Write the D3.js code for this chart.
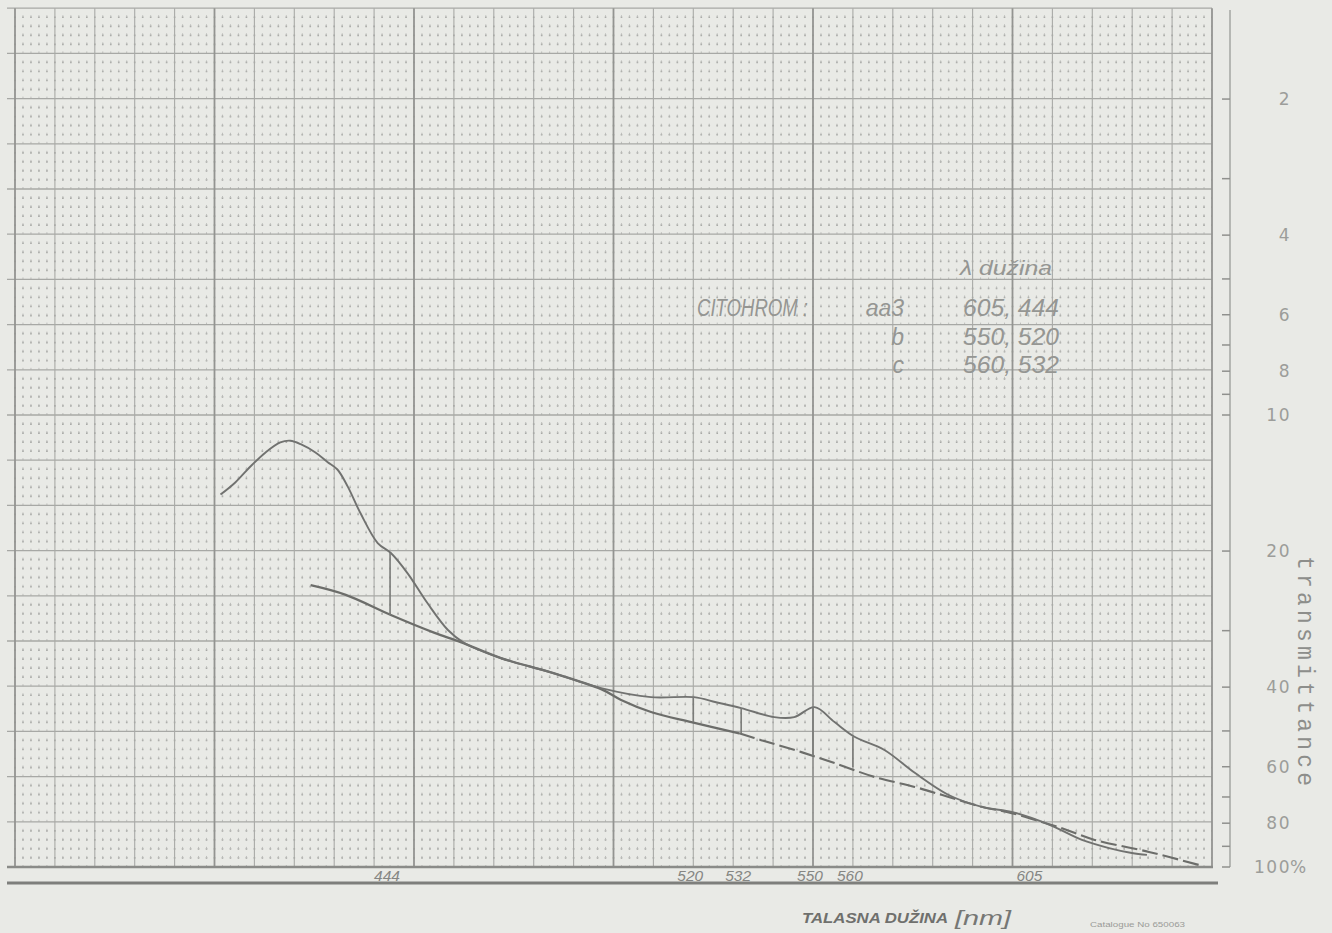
<!DOCTYPE html>
<html><head><meta charset="utf-8">
<script src="https://cdn.jsdelivr.net/npm/d3@7"></script>
<style>html,body{margin:0;padding:0;background:#e9eae6;} svg{display:block}</style>
</head><body>
<svg id="c" width="1332" height="933"></svg>
<script>
// ---- data (wavelength in nm, transmittance in %) ----
const sampleWavelength = [401.5,405.2,409.0,412.8,416.5,419.0,421.6,425.3,428.3,430.8,433.4,436.6,440.9,444.2,448.4,453.4,458.5,462.5,471.8,484.3,496.9,509.4,520.2,525.7,532.0,540.3,545.3,550.4,555.4,560.4,567.9,575.5,584.0,592.3,599.8,604.8,610.6,617.4,624.2,629.9,633.7];
const sampleTransmittance = [15.0,14.1,13.0,12.1,11.5,11.4,11.6,12.1,12.7,13.2,14.4,16.5,19.2,20.2,22.4,26.1,29.9,31.9,34.5,37.1,40.2,42.1,42.1,43.2,44.5,46.6,46.6,44.3,47.8,51.5,55.1,61.9,69.3,73.6,75.5,77.9,81.6,87.1,90.8,93.1,94.0];
const baselineWavelength = [424.1,432.9,444.2,455.0,461.7,471.8,484.3,496.9,501.9,509.4,519.5,531.5,537.0,547.1,555.4,565.4,575.5,584.0,592.3,599.8,607.3,613.6,620.6,634.2,646.8];
const baselineTransmittance = [23.8,25.0,27.7,30.3,31.8,34.5,37.1,40.4,42.7,45.4,47.8,50.6,52.4,55.7,58.9,63.2,66.5,70.0,73.6,76.0,79.5,82.8,87.1,92.6,99.0];
const markerWavelength = [444,520,532,550,560];
const markerTop = [20.2,42.1,44.5,44.3,51.5];
const markerBottom = [27.7,47.8,50.6,56.8,60.1];
const axisLabelWavelength = [444,520,532,550,560,605];
const transTickLabels = [2,4,6,8,10,20,40,60,80,100];
const transTicks = [2,3,4,5,6,7,8,9,10,20,30,40,50,60,70,80,90,100];
const legendCompounds = ["aa3","b","c"];
const legendPeaks = ["605, 444","550, 520","560, 532"];

// ---- scales ----
const x = d3.scaleLinear().domain([350,650]).range([15,1212]);
const y = d3.scaleLog().domain([100, Math.pow(10,0.1)]).range([867, 8.2]);
const T = a => Math.pow(10, 2 - a); // absorbance -> transmittance for the paper grid

const svg = d3.select("#c");
svg.append("rect").attr("width",1332).attr("height",933).attr("fill","#e9eae6");

const grid = svg.append("g");
const rows = d3.range(1,96).filter(k => k % 5 !== 0);
grid.selectAll("line.dr").data(rows).join("line")
  .attr("x1", x(350)-0.8).attr("x2", x(650))
  .attr("y1", k => y(T(k*0.02))).attr("y2", k => y(T(k*0.02)))
  .attr("stroke","#a6a7a4").attr("stroke-width",1.7)
  .attr("stroke-dasharray", () => { const p = x(352)-x(350); return `1.6 ${p-1.6}`; });
const cols = d3.range(350,651,2).filter(l => l % 10 !== 0);
grid.selectAll("line.dc").data(cols).join("line")
  .attr("x1", l => x(l)).attr("x2", l => x(l))
  .attr("y1", y(100)).attr("y2", y(Math.pow(10,0.1)))
  .attr("stroke","#bdbebb").attr("stroke-width",1)
  .attr("stroke-dasharray", () => { const p = y(T(0))-y(T(0.02)); return `2 ${p-2}`; });
grid.selectAll("line.h").data(d3.range(1,20)).join("line")
  .attr("x1", 7).attr("x2", x(650))
  .attr("y1", k => y(T(k*0.1))).attr("y2", k => y(T(k*0.1)))
  .attr("stroke","#a7a8a5").attr("stroke-width",1.3);
grid.selectAll("line.v").data(d3.range(350,651,10)).join("line")
  .attr("x1", l => x(l)).attr("x2", l => x(l))
  .attr("y1", y(100)).attr("y2", y(Math.pow(10,0.1)))
  .attr("stroke", l => l % 50 === 0 ? "#939491" : "#a9aaa7")
  .attr("stroke-width", l => l % 50 === 0 ? 1.8 : 1.1);

svg.append("line").attr("x1",7).attr("x2",x(650)+1).attr("y1",y(100)).attr("y2",y(100))
  .attr("stroke","#8a8b88").attr("stroke-width",2.4);
svg.append("line").attr("x1",7).attr("x2",1218).attr("y1",883).attr("y2",883)
  .attr("stroke","#7e7f7c").attr("stroke-width",3);

// right transmittance axis
const axisX = 1230;
svg.append("line").attr("x1",axisX).attr("x2",axisX).attr("y1",10).attr("y2",y(100))
  .attr("stroke","#9a9b98").attr("stroke-width",1.3);
svg.selectAll("line.tk").data(transTicks).join("line")
  .attr("x1",axisX-8).attr("x2",axisX).attr("y1",d=>y(d)).attr("y2",d=>y(d))
  .attr("stroke","#8f908d").attr("stroke-width",1.5);
svg.selectAll("text.tl").data(transTickLabels).join("text")
  .attr("x",1291).attr("y",d=>y(d)).attr("dy","0.36em")
  .attr("text-anchor","end")
  .attr("font-family","DejaVu Sans").attr("font-size",17).attr("letter-spacing",1.5)
  .attr("fill","#9c9d9a").text(d=>d);
svg.append("text").attr("x",1290).attr("y",y(100)).attr("dy","0.36em")
  .attr("font-family","DejaVu Sans").attr("font-size",17).attr("fill","#9c9d9a").text("%");
svg.append("text").attr("transform","translate(1298,556) rotate(90)")
  .attr("font-family","Liberation Mono").attr("font-size",23)
  .attr("textLength",230).attr("lengthAdjust","spacing")
  .attr("fill","#8d8e8b").text("transmittance");

// curves
const line = d3.line().x(d=>x(d[0])).y(d=>y(d[1])).curve(d3.curveCatmullRom.alpha(0.5));
const sample = sampleWavelength.map((w,i)=>[w,sampleTransmittance[i]]);
const base = baselineWavelength.map((w,i)=>[w,baselineTransmittance[i]]);
const split = baselineWavelength.indexOf(531.5);
svg.append("path").attr("d",line(base.slice(0,split+1))).attr("fill","none")
  .attr("stroke","#6c6d6a").attr("stroke-width",2.3);
svg.append("path").attr("d",line(base.slice(split))).attr("fill","none")
  .attr("stroke","#6c6d6a").attr("stroke-width",2.1).attr("stroke-dasharray","16 5");
svg.append("path").attr("d",line(sample)).attr("fill","none")
  .attr("stroke","#717270").attr("stroke-width",1.9);
svg.selectAll("line.mk").data(markerWavelength).join("line")
  .attr("x1",d=>x(d)).attr("x2",d=>x(d))
  .attr("y1",(d,i)=>y(markerTop[i])).attr("y2",(d,i)=>y(markerBottom[i]))
  .attr("stroke","#7a7b78").attr("stroke-width",1.6);

// wavelength labels
svg.selectAll("text.wl").data(axisLabelWavelength).join("text")
  .attr("x",d=>x(d)-3).attr("y",881).attr("text-anchor","middle")
  .attr("font-family","Liberation Sans").attr("font-style","italic").attr("font-size",15.5)
  .attr("fill","#858683").text(d=>d);

// legend
const lg = svg.append("g").attr("font-family","Liberation Sans").attr("font-style","italic")
  .attr("font-size",23).attr("fill","#959693");
lg.append("text").attr("x",960).attr("y",275).attr("font-size",21)
  .attr("textLength",92).attr("lengthAdjust","spacingAndGlyphs").text("λ dužina");
lg.append("text").attr("x",697).attr("y",316)
  .attr("textLength",111).attr("lengthAdjust","spacingAndGlyphs").text("CITOHROM :");
lg.selectAll("text.cp").data(legendCompounds).join("text")
  .attr("x",904).attr("y",(d,i)=>316+i*28.7).attr("text-anchor","end").text(d=>d);
lg.selectAll("text.pk").data(legendPeaks).join("text")
  .attr("x",963).attr("y",(d,i)=>316+i*28.7)
  .attr("textLength",96).attr("lengthAdjust","spacingAndGlyphs").text(d=>d);

// x-axis title
svg.append("text").attr("x",802).attr("y",923)
  .attr("font-family","Liberation Sans").attr("font-style","italic").attr("font-weight","bold")
  .attr("font-size",15).attr("textLength",146).attr("lengthAdjust","spacingAndGlyphs")
  .attr("fill","#6f706d").text("TALASNA DUŽINA");
svg.append("text").attr("x",955).attr("y",925)
  .attr("font-family","Liberation Sans").attr("font-style","italic")
  .attr("font-size",20).attr("textLength",56).attr("lengthAdjust","spacingAndGlyphs")
  .attr("fill","#767774").text("[nm]");
svg.append("text").attr("x",1090).attr("y",927)
  .attr("font-family","Liberation Sans").attr("font-size",8)
  .attr("textLength",95).attr("lengthAdjust","spacingAndGlyphs")
  .attr("fill","#9a9b98").text("Catalogue No 650063");
</script>
</body></html>
